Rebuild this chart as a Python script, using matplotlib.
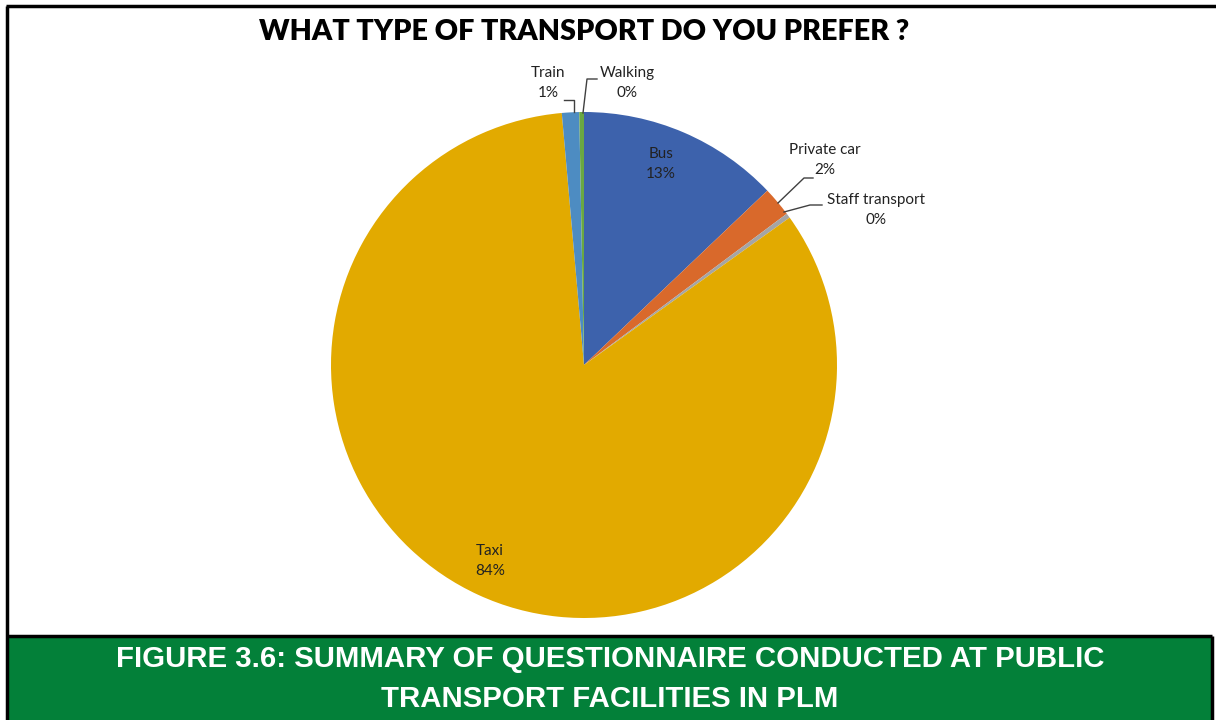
import matplotlib.pyplot as plt
from matplotlib.patches import Rectangle
from matplotlib.lines import Line2D

# survey answers, share of respondents (%)
modes = ['Bus', 'Private car', 'Staff transport', 'Taxi', 'Train', 'Walking']
shares = [12.9, 1.9, 0.3, 83.5, 1.1, 0.3]
colors = ['#3d62ac', '#d9692b', '#a5a5a5', '#e2aa00', '#4d8cc2', '#6aa842']

W, H = 1216, 720
fig = plt.figure(figsize=(W / 100, H / 100), dpi=100)
fig.patch.set_facecolor('white')

# pie centre / radius in pixels
cx, cy, r = 584, 365, 253
ax = fig.add_axes([(cx - r) / W, (H - cy - r) / H, 2 * r / W, 2 * r / H])
ax.pie(shares, colors=colors, startangle=90, counterclock=False, radius=1,
       wedgeprops=dict(linewidth=0))
ax.set_xlim(-1, 1)
ax.set_ylim(-1, 1)
ax.axis('off')


def px(x, y):
    return ((x - cx) / r, (cy - y) / r)


lab_font = dict(family=['Lato', 'DejaVu Sans'], fontsize=11, color='#222222',
                ha='center', va='center', linespacing=1.55)
labels = {
    'Bus': (661, 164),
    'Taxi': (490, 561),
    'Train': (548, 83),
    'Walking': (627, 83),
    'Private car': (825, 160),
    'Staff transport': (876, 210),
}
for name, val in zip(modes, shares):
    x, y = px(*labels[name])
    ax.text(x, y, f'{name}\n{round(val)}%', **lab_font, clip_on=False)

# leader lines for the small slices
leaders = [
    [(574, 112), (574, 100), (564, 100)],
    [(583, 113), (587, 79), (597, 79)],
    [(778, 203), (804, 178), (813, 178)],
    [(784, 212), (810, 205), (822, 205)],
]
for pts in leaders:
    xs, ys = zip(*[px(*p) for p in pts])
    ax.add_line(Line2D(xs, ys, color='#404040', lw=1, clip_on=False))

fig.text(584 / W, 1 - 32 / H, 'WHAT TYPE OF TRANSPORT DO YOU PREFER ?',
         family=['Lato', 'DejaVu Sans'], fontweight='heavy', fontsize=20.7,
         ha='center', va='center', color='black')

# outer frame and caption bar
bg = fig.add_axes([0, 0, 1, 1], zorder=-1)
bg.set_xlim(0, W)
bg.set_ylim(H, 0)
bg.axis('off')
bg.add_patch(Rectangle((8, 637), 1203, 90, facecolor='#038039', edgecolor='none'))
bg.plot([7, 7], [6, H], color='black', lw=2.5, solid_capstyle='butt')
bg.plot([6, W], [6, 6], color='black', lw=2.5, solid_capstyle='butt')
bg.plot([1212, 1212], [636, H], color='black', lw=2.5, solid_capstyle='butt')
bg.plot([7, 1212], [636, 636], color='black', lw=2.5, solid_capstyle='butt')

cap_font = dict(family=['Liberation Sans Narrow', 'Liberation Sans', 'DejaVu Sans'],
                fontweight='bold', fontsize=21.2, color='white', ha='center', va='center')
fig.text(610 / W, 1 - 659 / H, 'FIGURE 3.6: SUMMARY OF QUESTIONNAIRE CONDUCTED AT PUBLIC', **cap_font)
fig.text(610 / W, 1 - 699 / H, 'TRANSPORT FACILITIES IN PLM', **cap_font)

fig.savefig('out.png', dpi=100)
